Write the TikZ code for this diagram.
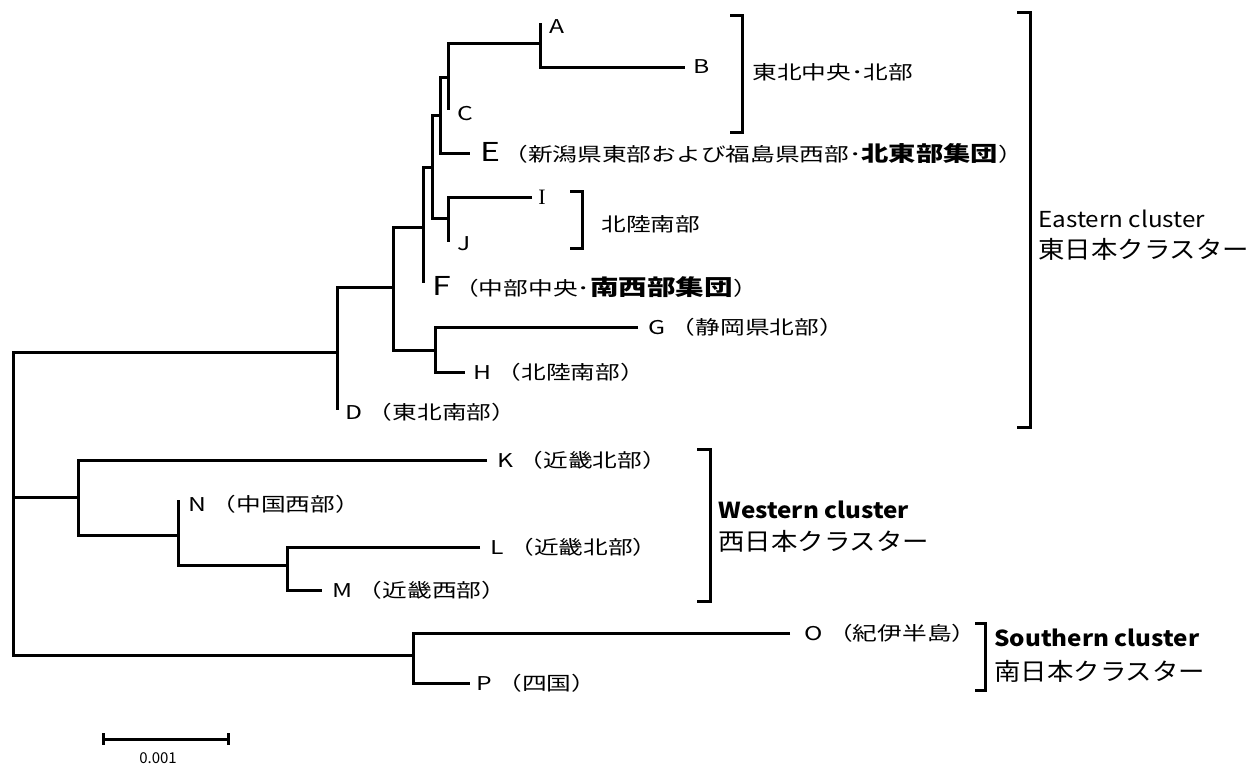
\documentclass[tikz,border=0pt]{standalone}
\usepackage{fontspec}
\setmainfont{Noto Sans CJK JP}
\newfontfamily\leaffont[FakeStretch=1.3]{Noto Sans CJK JP}
\newfontfamily\clufont[FakeStretch=1.1]{Noto Sans CJK JP}
\newfontfamily\serifI{Liberation Serif}
\begin{document}
\begin{tikzpicture}[x=0.5pt,y=-0.5pt,
  branch/.style={line width=1.5pt, line join=miter},
  bracketline/.style={line width=1.5pt, line join=miter},
  leaf/.style={anchor=west, inner sep=0pt, font=\leaffont\fontsize{9.5}{10}\selectfont},
  clulat/.style={anchor=west, inner sep=0pt, font=\clufont\fontsize{11}{12}\selectfont},
  clujp/.style={anchor=west, inner sep=0pt, font=\clufont\fontsize{12}{13}\selectfont}]
\useasboundingbox (0,0) rectangle (1257,766);
% tree nodes
\coordinate (R) at (13,497);
\coordinate (EN) at (337,352);
\coordinate (N1) at (393,287);
\coordinate (N2) at (423,227);
\coordinate (N3) at (432,167);
\coordinate (N4) at (440,115);
\coordinate (N5) at (448,77);
\coordinate (AB) at (540,43);
\coordinate (A) at (540,23);
\coordinate (B) at (685,67);
\coordinate (C) at (448,110);
\coordinate (E) at (470,153);
\coordinate (IJ) at (448,218);
\coordinate (I) at (532,197);
\coordinate (J) at (448,242);
\coordinate (F) at (423,283);
\coordinate (GH) at (435,350);
\coordinate (G) at (638,327);
\coordinate (H) at (465,372);
\coordinate (D) at (337,410);
\coordinate (WN) at (78,497);
\coordinate (K) at (487,460);
\coordinate (NN) at (178,535);
\coordinate (N) at (178,500);
\coordinate (LM) at (287,565);
\coordinate (L) at (480,547);
\coordinate (M) at (322,590);
\coordinate (SN) at (413,655);
\coordinate (O) at (790,633);
\coordinate (P) at (470,683);
% branches
\draw[branch] (EN) -| (R) |- (SN);
\draw[branch] (R) -- (WN);
\draw[branch] (N1) -| (EN) |- (D);
\draw[branch] (N2) -| (N1) |- (GH);
\draw[branch] (N3) -| (N2) |- (F);
\draw[branch] (N4) -| (N3) |- (IJ);
\draw[branch] (N5) -| (N4) |- (E);
\draw[branch] (AB) -| (N5) |- (C);
\draw[branch] (A) -| (AB) |- (B);
\draw[branch] (I) -| (IJ) |- (J);
\draw[branch] (G) -| (GH) |- (H);
\draw[branch] (K) -| (WN) |- (NN);
\draw[branch] (N) -| (NN) |- (LM);
\draw[branch] (L) -| (LM) |- (M);
\draw[branch] (O) -| (SN) |- (P);
% leaf labels
\node[leaf] (Al) at ([xshift=4.5pt,yshift=-2pt]A) {A};
\node[leaf] (Bl) at ([xshift=4pt]B) {B};
\node[leaf] (Cl) at ([xshift=4.5pt,yshift=-2pt]C) {C};
\node[leaf] (El) at ([xshift=5pt]E) {{\fontsize{13}{14}\selectfont E}\,（新潟県東部および福島県西部･{\bfseries\fontsize{10.5}{11}\selectfont 北東部集団}）};
\node[leaf] (Il) at ([xshift=3pt]I) {\serifI\fontsize{11}{12}\selectfont I};
\node[leaf] (Jl) at ([xshift=4.5pt,yshift=-1pt]J) {J};
\node[leaf] (Fl) at ([xshift=4.5pt,yshift=-2pt]F) {{\fontsize{13}{14}\selectfont F}\,（中部中央･{\bfseries\fontsize{11}{12}\selectfont 南西部集団}）};
\node[leaf] (Gl) at ([xshift=5pt]G) {G （静岡県北部）};
\node[leaf] (Hl) at ([xshift=4pt]H) {H （北陸南部）};
\node[leaf] (Dl) at ([xshift=4pt,yshift=-1pt]D) {D （東北南部）};
\node[leaf] (Kl) at ([xshift=5pt]K) {K （近畿北部）};
\node[leaf] (Nl) at ([xshift=5pt,yshift=-2pt]N) {N （中国西部）};
\node[leaf] (Ll) at ([xshift=5pt]L) {L （近畿北部）};
\node[leaf] (Ml) at ([xshift=5pt]M) {M （近畿西部）};
\node[leaf] (Ol) at ([xshift=7pt]O) {O （紀伊半島）};
\node[leaf] (Pl) at ([xshift=3pt]P) {P （四国）};
% brackets
\draw[bracketline] (730,15) -- (742,15) -- (742,132) -- (730,132);
\node[leaf] (g1) at (752,72) {東北中央･北部};
\draw[bracketline] (570,191) -- (582,191) -- (582,248) -- (570,248);
\node[leaf] (g2) at (601,224) {北陸南部};
\draw[bracketline] (1017,12) -- (1030,12) -- (1030,427) -- (1017,427);
\node[clulat] (eastA) at (1038,219) {Eastern cluster};
\node[clujp] (eastB) at (1038,249) {東日本クラスター};
\draw[bracketline] (697,449) -- (710,449) -- (710,601) -- (697,601);
\node[clulat,font=\clufont\bfseries\fontsize{11}{12}\selectfont] (westA) at (718,510) {Western cluster};
\node[clujp] (westB) at (718,541) {西日本クラスター};
\draw[bracketline] (975,623) -- (985,623) -- (985,690) -- (975,690);
\node[clulat,font=\clufont\bfseries\fontsize{11}{12}\selectfont] (southA) at (994,638) {Southern cluster};
\node[clujp] (southB) at (994,671) {南日本クラスター};
% scale bar
\coordinate (s1) at (103,739);
\coordinate (s2) at (228,739);
\draw[line width=1.5pt] (s1) -- (s2);
\draw[line width=1.5pt] ([yshift=3pt]s1) -- ([yshift=-3pt]s1);
\draw[line width=1.5pt] ([yshift=3pt]s2) -- ([yshift=-3pt]s2);
\node[inner sep=0pt,font=\fontsize{7.5}{8}\selectfont] (sl) at (158,758) {0.001};
\end{tikzpicture}
\end{document}
